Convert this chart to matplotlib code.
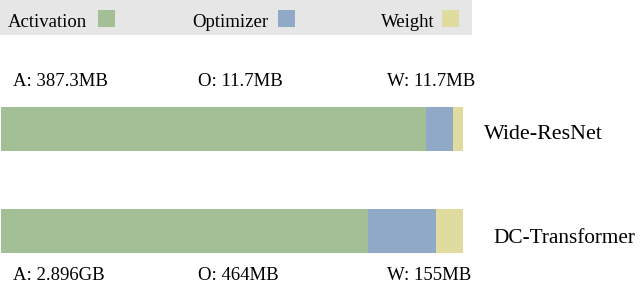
import matplotlib
matplotlib.use("Agg")
import matplotlib.pyplot as plt
from matplotlib.patches import Rectangle

# ---- data ----
models = ["Wide-ResNet", "DC-Transformer"]
components = ["Activation", "Optimizer", "Weight"]
# bar segment shares as drawn (normalized bar length = 1)
activation_share = [0.920, 0.794]
optimizer_share = [0.059, 0.148]
weight_share = [0.021, 0.058]
top_labels = ["A: 387.3MB", "O: 11.7MB", "W: 11.7MB"]
bottom_labels = ["A: 2.896GB", "O: 464MB", "W: 155MB"]

colors = ["#a3bf96", "#8fa9c7", "#e0dca0"]

W, H = 640, 285
plt.rcParams["font.family"] = ["Liberation Serif", "DejaVu Serif"]
fig = plt.figure(figsize=(W / 100, H / 100), dpi=100)

def fx(px):
    return px / W

def fy(py):
    return 1 - py / H

# ---- bars ----
bar_top, bar_bot = 106.7, 253.3
ax = fig.add_axes([fx(1), fy(bar_bot), fx(463) - fx(1), fy(bar_top) - fy(bar_bot)])
ypos = [129.0, 230.8]
bh = 44.4
ax.set_ylim(bar_bot, bar_top)
ax.set_xlim(0, 1)
series = [activation_share, optimizer_share, weight_share]
left = [0.0, 0.0]
for vals, c, name in zip(series, colors, components):
    ax.barh(ypos, vals, height=bh, left=left, color=c, edgecolor="none", label=name)
    left = [l + v for l, v in zip(left, vals)]
ax.axis("off")

# ---- legend (hand drawn) ----
fig.patches.append(Rectangle((0, fy(35)), fx(472), fy(0) - fy(35),
                             transform=fig.transFigure, facecolor="#e6e6e6",
                             edgecolor="none", zorder=0))
leg_text_x = [8, 192, 381]
leg_sq_x = [98, 278, 442]
for name, c, tx, sx in zip(components, colors, leg_text_x, leg_sq_x):
    fig.text(fx(tx), fy(26.7), name, fontsize=13.5, va="baseline", ha="left")
    fig.patches.append(Rectangle((fx(sx), fy(27)), fx(17), fy(10) - fy(27),
                                 transform=fig.transFigure, facecolor=c,
                                 edgecolor="none"))

# ---- annotations ----
ann_x = [13, 198, 387]
for t, x in zip(top_labels, ann_x):
    fig.text(fx(x), fy(86), t, fontsize=13.5, va="baseline", ha="left")
for t, x in zip(bottom_labels, ann_x):
    fig.text(fx(x), fy(284.5), t, fontsize=13.5, va="bottom", ha="left")

fig.text(fx(484), fy(139.3), models[0], fontsize=15.8, va="baseline", ha="left")
fig.text(fx(493), fy(243.3), models[1], fontsize=15.3, va="baseline", ha="left")

fig.savefig("out.png", dpi=100)
